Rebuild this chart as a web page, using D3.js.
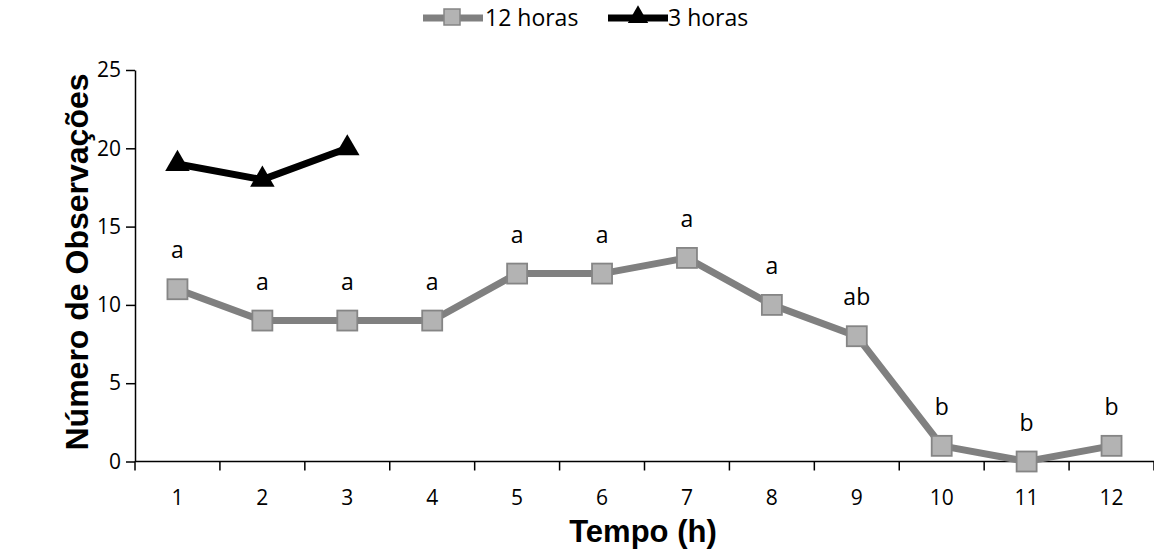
<!DOCTYPE html>
<html><head><meta charset="utf-8">
<script src="https://cdn.jsdelivr.net/npm/d3@7"></script>
<style>body{margin:0;background:#fff}</style>
</head><body>
<svg id="c" width="1154" height="555"></svg>
<script>
const categories = [1,2,3,4,5,6,7,8,9,10,11,12];
const values12h = [11,9,9,9,12,12,13,10,8,1,0,1];
const values3h = [19,18,20];
const letters12h = ["a","a","a","a","a","a","a","a","ab","b","b","b"];
const yTicks = [0,5,10,15,20,25];

const svg = d3.select("#c");
const tickFont = "'Open Sans', sans-serif";
const titleFont = "'Liberation Sans', Arial, sans-serif";
const x = d3.scaleBand().domain(categories).range([135,1154]);
const y = d3.scaleLinear().domain([0,25]).range([461.5,70]);
const cx = d => x(d) + x.bandwidth()/2;

// y axis
const ya = svg.append("g").attr("transform","translate(135,0)")
  .call(d3.axisLeft(y).tickValues(yTicks).tickSize(9).tickSizeOuter(0));
ya.select(".domain").attr("stroke","#000").attr("stroke-width",1.5);
ya.selectAll(".tick line").attr("stroke","#000").attr("stroke-width",1.5);
ya.selectAll(".tick text").attr("font-family",tickFont).attr("font-size",21).attr("fill","#000").attr("x",-14);

// x axis with boundary ticks
const xa = svg.append("g").attr("transform","translate(0,461.5)");
xa.append("line").attr("x1",135).attr("x2",1154).attr("stroke","#000").attr("stroke-width",1.5);
const bounds = categories.map(c=>x(c)).concat([x(categories[categories.length-1])+x.bandwidth()]);
xa.selectAll("line.t").data(bounds).join("line").attr("class","t")
  .attr("x1",d=>d).attr("x2",d=>d).attr("y1",0).attr("y2",9).attr("stroke","#000").attr("stroke-width",1.5);
xa.selectAll("text").data(categories).join("text")
  .attr("x",d=>cx(d)).attr("y",43).attr("text-anchor","middle")
  .attr("font-family",tickFont).attr("font-size",21).text(d=>d);

// 12h line
const line = d3.line().x((d,i)=>cx(categories[i])).y(d=>y(d));
svg.append("path").datum(values12h).attr("d",line).attr("fill","none")
  .attr("stroke","#808080").attr("stroke-width",7).attr("stroke-linejoin","miter");
svg.selectAll("rect.m").data(values12h).join("rect").attr("class","m")
  .attr("x",(d,i)=>cx(categories[i])-10).attr("y",d=>y(d)-10).attr("width",20).attr("height",20)
  .attr("fill","#b3b3b3").attr("stroke","#858585").attr("stroke-width",1.8);
svg.selectAll("text.l").data(values12h).join("text").attr("class","l")
  .attr("x",(d,i)=>cx(categories[i])).attr("y",d=>y(d)-31).attr("text-anchor","middle")
  .attr("font-family",tickFont).attr("font-size",23).text((d,i)=>letters12h[i]);

// 3h line
svg.append("path").datum(values3h).attr("d",line).attr("fill","none")
  .attr("stroke","#000").attr("stroke-width",7);
const tri = d3.symbol().type(d3.symbolTriangle).size(260);
svg.selectAll("path.tri").data(values3h).join("path").attr("class","tri")
  .attr("d",tri).attr("transform",(d,i)=>`translate(${cx(categories[i])},${y(d)})`).attr("fill","#000");

// axis titles
svg.append("text").attr("x",643).attr("y",542).attr("text-anchor","middle")
  .attr("font-family",titleFont).attr("font-weight","bold").attr("font-size",31).text("Tempo (h)");
svg.append("text").attr("transform","translate(77,262) rotate(-90)").attr("text-anchor","middle").attr("dy","0.35em")
  .attr("font-family",titleFont).attr("font-weight","bold").attr("font-size",32).text("Número de Observações");

// legend
const lg = svg.append("g");
lg.append("line").attr("x1",423).attr("x2",483).attr("y1",18).attr("y2",18).attr("stroke","#808080").attr("stroke-width",7);
lg.append("rect").attr("x",444).attr("y",9).attr("width",16).attr("height",16).attr("fill","#b3b3b3").attr("stroke","#858585").attr("stroke-width",1.5);
lg.append("text").attr("x",485).attr("y",26).attr("font-family",tickFont).attr("font-size",23).text("12 horas");
lg.append("line").attr("x1",608).attr("x2",668).attr("y1",18).attr("y2",18).attr("stroke","#000").attr("stroke-width",7);
lg.append("path").attr("d",d3.symbol().type(d3.symbolTriangle).size(180)).attr("transform","translate(638,17)").attr("fill","#000");
lg.append("text").attr("x",668).attr("y",26).attr("font-family",tickFont).attr("font-size",23).text("3 horas");
</script>
</body></html>
